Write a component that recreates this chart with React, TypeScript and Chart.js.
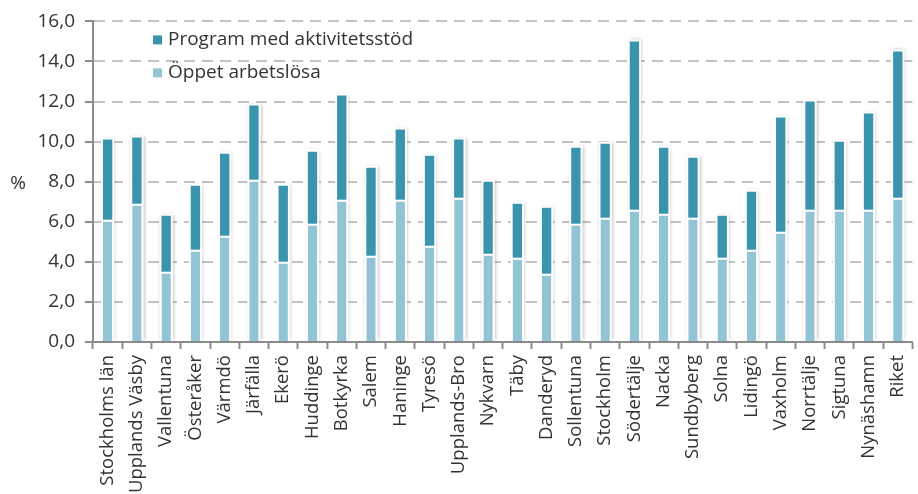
import React, { useEffect, useRef } from 'react';
import { Chart, registerables } from 'chart.js';

Chart.register(...registerables);

const categories = [
  'Stockholms län', 'Upplands Väsby', 'Vallentuna', 'Österåker', 'Värmdö', 'Järfälla',
  'Ekerö', 'Huddinge', 'Botkyrka', 'Salem', 'Haninge', 'Tyresö', 'Upplands-Bro',
  'Nykvarn', 'Täby', 'Danderyd', 'Sollentuna', 'Stockholm', 'Södertälje', 'Nacka',
  'Sundbyberg', 'Solna', 'Lidingö', 'Vaxholm', 'Norrtälje', 'Sigtuna', 'Nynäshamn', 'Riket',
];

const oppetArbetslosa = [
  6.1, 6.9, 3.5, 4.6, 5.3, 8.1, 4.0, 5.9, 7.1, 4.3, 7.1, 4.8, 7.2,
  4.4, 4.2, 3.4, 5.9, 6.2, 6.6, 6.4, 6.2, 4.2, 4.6, 5.5, 6.6, 6.6, 6.6, 7.2,
];

const programMedAktivitetsstod = [
  4.0, 3.3, 2.8, 3.2, 4.1, 3.7, 3.8, 3.6, 5.2, 4.4, 3.5, 4.5, 2.9,
  3.6, 2.7, 3.3, 3.8, 3.7, 8.4, 3.3, 3.0, 2.1, 2.9, 5.7, 5.4, 3.4, 4.8, 7.3,
];

const seriesLabels = ['Öppet arbetslösa', 'Program med aktivitetsstöd'];
const yAxisTitle = '%';
const yMin = 0;
const yMax = 16;
const yStep = 2;

const FONT = '"Open Sans", sans-serif';
const TEXT = '#333333';
const AXIS = '#8c8c8c';

const barOutlinePlugin = {
  id: 'barOutline',
  beforeDatasetsDraw(chart: any) {
    const ctx = chart.ctx;
    const metas = chart.getSortedVisibleDatasetMetas();
    const n = chart.data.labels.length;
    ctx.save();
    ctx.fillStyle = '#ffffff';
    ctx.shadowColor = 'rgba(0,0,0,0.22)';
    ctx.shadowBlur = 3;
    ctx.shadowOffsetX = 1;
    for (let i = 0; i < n; i++) {
      let top = Infinity;
      let bottom = -Infinity;
      let left = 0;
      let width = 0;
      metas.forEach((m: any) => {
        const el = m.data[i];
        if (!el) return;
        const p = el.getProps(['x', 'y', 'base', 'width'], true);
        top = Math.min(top, p.y, p.base);
        bottom = Math.max(bottom, p.y, p.base);
        left = p.x - p.width / 2;
        width = p.width;
      });
      if (isFinite(top)) ctx.fillRect(left - 2, top - 2, width + 4, bottom - top + 1);
    }
    ctx.restore();
  },
};

const overlayPlugin = {
  id: 'overlay',
  afterDraw(chart: any) {
    const ctx = chart.ctx;
    const area = chart.chartArea;
    ctx.save();
    ctx.font = `19px ${FONT}`;
    ctx.textBaseline = 'middle';
    ctx.fillStyle = TEXT;
    ctx.textAlign = 'center';
    ctx.fillText(yAxisTitle, 18, (area.top + area.bottom) / 2 + 2);
    const ds = chart.data.datasets.slice().reverse();
    ds.forEach((d: any, i: number) => {
      const y = area.top + 18 + i * 33;
      const x = area.left + 60;
      ctx.fillStyle = d.backgroundColor;
      ctx.fillRect(x, y - 4, 9, 9);
      ctx.fillStyle = TEXT;
      ctx.textAlign = 'left';
      ctx.fillText(d.label, x + 15, y);
    });
    ctx.restore();
  },
};

export default function App() {
  const ref = useRef<HTMLCanvasElement | null>(null);
  useEffect(() => {
    if (!ref.current) return;
    const chart = new Chart(ref.current, {
      type: 'bar',
      data: {
        labels: categories,
        datasets: [
          {
            label: seriesLabels[0],
            data: oppetArbetslosa,
            backgroundColor: '#92c4d6',
            borderColor: '#ffffff',
            borderWidth: { top: 2, left: 0, right: 0, bottom: 0 },
            barPercentage: 0.32,
            categoryPercentage: 1,
          },
          {
            label: seriesLabels[1],
            data: programMedAktivitetsstod,
            backgroundColor: '#3a94ad',
            borderWidth: 0,
            barPercentage: 0.32,
            categoryPercentage: 1,
          },
        ],
      },
      options: {
        animation: false,
        responsive: true,
        maintainAspectRatio: false,
        layout: { padding: { top: 19, left: 0, right: 0, bottom: 0 } },
        plugins: {
          legend: { display: false },
          tooltip: { enabled: false },
        },
        scales: {
          x: {
            stacked: true,
            grid: {
              display: true,
              drawOnChartArea: false,
              drawTicks: true,
              tickLength: 7,
              tickColor: AXIS,
              tickWidth: 2,
              offset: true,
            },
            border: { color: AXIS, width: 2 },
            ticks: {
              autoSkip: false,
              minRotation: 90,
              maxRotation: 90,
              padding: 6,
              color: TEXT,
              font: { family: FONT, size: 18.5 },
            },
            afterFit(scale: any) {
              scale.height = 152;
            },
          },
          y: {
            stacked: true,
            min: yMin,
            max: yMax,
            grid: {
              color: '#c3c3c3',
              lineWidth: 2,
              tickColor: AXIS,
              tickWidth: 2,
              tickLength: 8,
              tickBorderDash: [],
            },
            border: { color: AXIS, width: 2, dash: [11, 7] },
            ticks: {
              stepSize: yStep,
              padding: 10,
              color: TEXT,
              font: { family: FONT, size: 19 },
              callback: (v: any) => Number(v).toFixed(1).replace('.', ','),
            },
            afterFit(scale: any) {
              scale.width = 93;
            },
          },
        },
      },
      plugins: [barOutlinePlugin, overlayPlugin],
    });
    return () => chart.destroy();
  }, []);
  return (
    <div style={{ position: 'fixed', left: 0, top: 0, width: 926, height: 494 }}>
      <canvas ref={ref} />
    </div>
  );
}
